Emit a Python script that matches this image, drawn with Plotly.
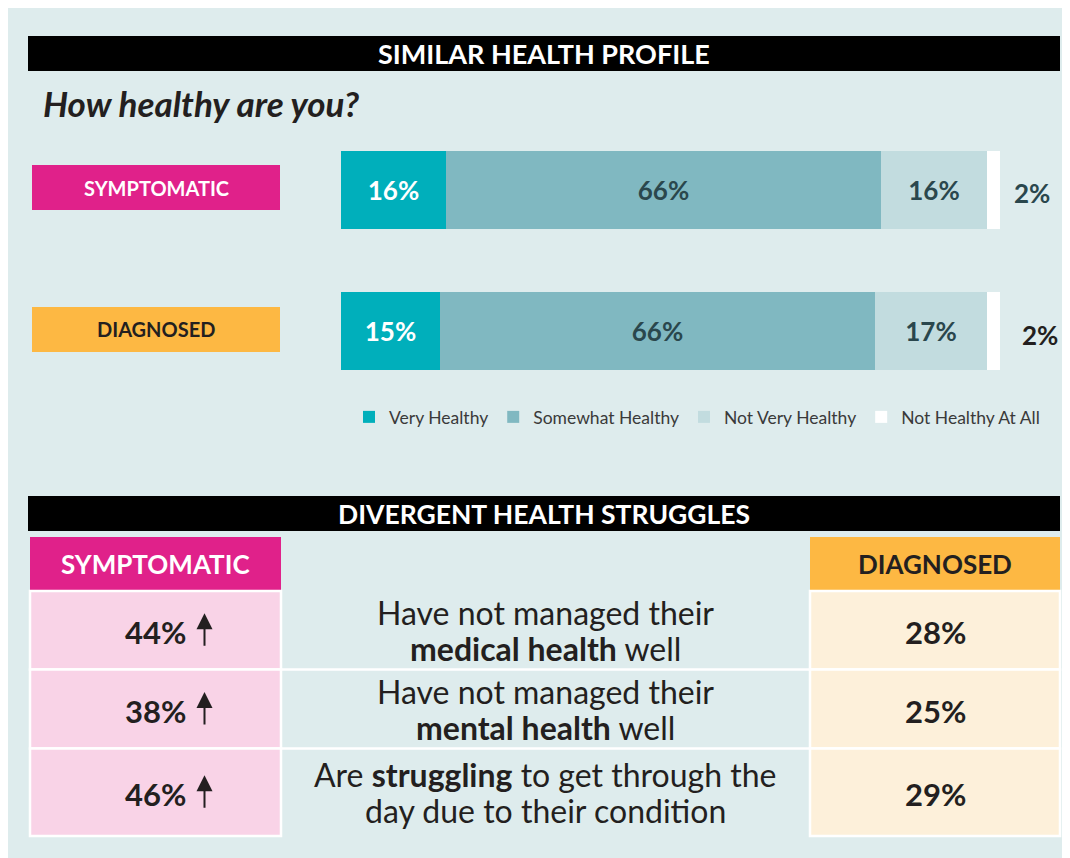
import plotly.graph_objects as go

# The page places the figure 8px in from the top-left corner, so the figure is
# sized to the visible area and all layout positions are given in page pixels.
OFF = 8
W, H = 1060, 850
FONT = "Lato"

# ---------------- data ----------------
groups = ["SYMPTOMATIC", "DIAGNOSED"]
series_names = ["Very Healthy", "Somewhat Healthy", "Not Very Healthy", "Not Healthy At All"]
very_healthy = [16, 15]
somewhat_healthy = [66, 66]
not_very_healthy = [16, 17]
not_healthy_at_all = [2, 2]

title_top = "SIMILAR HEALTH PROFILE"
question = "How healthy are you?"
title_bottom = "DIVERGENT HEALTH STRUGGLES"

struggle_sym = [44, 38, 46]
struggle_diag = [28, 25, 29]
struggle_line1 = ["Have not managed their", "Have not managed their",
                  "Are <b>struggling</b> to get through the"]
struggle_line2 = ["<b>medical health</b> well", "<b>mental health</b> well",
                  "day due to their condition"]

# ---------------- styles ----------------
PANEL = "#deeced"
MAGENTA = "#e0218a"
ORANGE = "#fdb843"
PINK = "#f9d3e7"
CREAM = "#fdf0da"
DARK = "#231f20"
TEAL_TXT = "#2a474d"
series_colors = ["#00afbb", "#80b8c1", "#c2dcdf", "#ffffff"]
series_text_colors = ["#ffffff", TEAL_TXT, TEAL_TXT, TEAL_TXT]
series_values = [very_healthy, somewhat_healthy, not_very_healthy, not_healthy_at_all]


def px(x):
    return (x - OFF) / W


def py(y):
    return 1 - (y - OFF) / H


shapes = []
annotations = []


def rect(x0, y0, x1, y1, fill, line_color=None, lw=0):
    shapes.append(dict(type="rect", xref="paper", yref="paper",
                       x0=px(x0), x1=px(x1), y0=py(y1), y1=py(y0),
                       fillcolor=fill, layer="below",
                       line=dict(width=lw, color=line_color or fill)))


def hline(x0, x1, y, color="white", lw=2.5):
    shapes.append(dict(type="line", xref="paper", yref="paper",
                       x0=px(x0), x1=px(x1), y0=py(y), y1=py(y),
                       layer="below", line=dict(width=lw, color=color)))


def text(x, y, s, size, color, xanchor="center"):
    annotations.append(dict(xref="paper", yref="paper", x=px(x), y=py(y),
                            text=s, showarrow=False, xanchor=xanchor, yanchor="middle",
                            font=dict(family=FONT, size=size, color=color)))


# top header
rect(28, 36, 1060, 71, "#000000")
text(544, 53.5, f"<b>{title_top}</b>", 27, "white")
text(41, 103, f"<b><i>{question}</i></b>", 35, DARK, xanchor="left")

# group label boxes
label_fill = [MAGENTA, ORANGE]
label_font = ["white", DARK]
label_centers = [187.5, 329.5]
for g, f, c, yc in zip(groups, label_fill, label_font, label_centers):
    rect(32, yc - 22.5, 280, yc + 22.5, f)
    text(156, yc, f"<b>{g}</b>", 20, c)

# ---------------- stacked bars ----------------
fig = go.Figure()
for name, vals, col, tcol in zip(series_names, series_values, series_colors, series_text_colors):
    is_last = name == series_names[-1]
    fig.add_trace(go.Bar(
        y=groups, x=vals, name=name, orientation="h",
        marker=dict(color=col, line=dict(width=0)),
        width=0.55,
        texttemplate="<b>%{x}%</b>",
        textposition="none" if is_last else "inside",
        insidetextanchor="middle",
        textfont=dict(family=FONT, size=26, color=tcol),
        hoverinfo="skip",
    ))

# outside labels for the last segment
totals = [sum(v[i] for v in series_values) for i in range(len(groups))]
outside_shift = [12, 20]
outside_color = [TEAL_TXT, DARK]
for i, g in enumerate(groups):
    annotations.append(dict(xref="x", yref="y", x=totals[i], y=g,
                            text=f"<b>{not_healthy_at_all[i]}%</b>", showarrow=False,
                            xanchor="left", yanchor="middle", xshift=outside_shift[i],
                            yshift=-3,
                            font=dict(family=FONT, size=26, color=outside_color[i])))

# ---------------- bottom section ----------------
rect(28, 496, 1060, 531, "#000000")
text(544, 513.5, f"<b>{title_bottom}</b>", 26.5, "white")

rect(30, 537, 281, 591, MAGENTA)
text(155.5, 564, "<b>SYMPTOMATIC</b>", 26, "white")
rect(810, 537, 1060, 591, ORANGE)
text(935, 564, "<b>DIAGNOSED</b>", 26, DARK)

row_bounds = [(591, 669.5), (669.5, 748.5), (748.5, 836)]
for i, (y0, y1) in enumerate(row_bounds):
    rect(30, y0, 281, y1, PINK, "white", 2.5)
    rect(810, y0, 1060, y1, CREAM, "white", 2.5)
    if i > 0:
        hline(281, 810, y0)
    yc = (y0 + y1) / 2
    text(155, yc + 2, f"<b>{struggle_sym[i]}%</b>", 31, DARK)
    text(935.5, yc + 2, f"<b>{struggle_diag[i]}%</b>", 31, DARK)
    text(545, yc - 18, struggle_line1[i], 32, DARK)
    text(545, yc + 18, struggle_line2[i], 32, DARK)
    annotations.append(dict(xref="paper", yref="paper", x=px(204.5), y=py(yc - 17),
                            ax=0, ay=34, text="", showarrow=True, arrowhead=2,
                            arrowwidth=2, arrowsize=1.6, arrowcolor=DARK, standoff=0))

# ---------------- layout ----------------
bar_center_top, bar_center_bottom = 190.0, 331.5
step = bar_center_bottom - bar_center_top
dom_top = bar_center_top - step / 2
dom_bottom = bar_center_bottom + step / 2

fig.update_layout(
    width=W, height=H,
    margin=dict(l=0, r=0, t=0, b=0),
    paper_bgcolor=PANEL, plot_bgcolor="rgba(0,0,0,0)",
    barmode="stack", bargap=0,
    showlegend=True,
    legend=dict(orientation="h", x=px(349), y=py(417), xanchor="left", yanchor="middle",
                font=dict(family=FONT, size=17.5, color="#3a3a3a"),
                bgcolor="rgba(0,0,0,0)", itemwidth=30, traceorder="normal"),
    xaxis=dict(domain=[px(341), px(1000)], range=[0, 100], visible=False, fixedrange=True),
    yaxis=dict(domain=[py(dom_bottom), py(dom_top)], type="category",
               categoryorder="array", categoryarray=groups[::-1],
               range=[-0.5, 1.5], visible=False, fixedrange=True),
    shapes=shapes,
    annotations=annotations,
    font=dict(family=FONT),
)

fig.write_html("out.html")
